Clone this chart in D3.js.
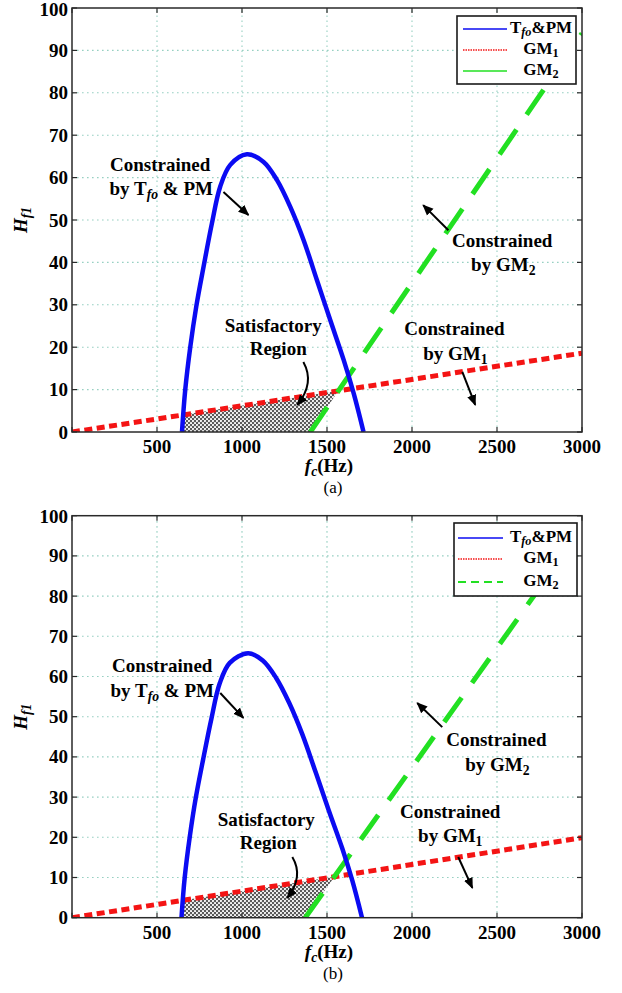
<!DOCTYPE html>
<html>
<head>
<meta charset="utf-8">
<script src="https://cdn.jsdelivr.net/npm/d3@7"></script>
<style>
  body { margin: 0; background: #fff; }
</style>
</head>
<body>
<svg id="fig" width="622" height="993" font-family="Liberation Serif, Times New Roman, Times, serif"></svg>
<script>
// ---- axes ----
const fcTicks = [0, 500, 1000, 1500, 2000, 2500, 3000];
const fcTickLabels = ["", "500", "1000", "1500", "2000", "2500", "3000"];
const hTicks = [0, 10, 20, 30, 40, 50, 60, 70, 80, 90, 100];
const hTickLabels = ["0", "10", "20", "30", "40", "50", "60", "70", "80", "90", "100"];
const legendNames = ["Tfo&PM", "GM1", "GM2"];

// ---- panel (a) ----
const tfoA_fc = [647, 666, 696, 731, 774, 823, 872, 931, 1029, 1127, 1206, 1284, 1362, 1441, 1519, 1598, 1657, 1715];
const tfoA_h  = [0, 9.9, 20.1, 29.6, 39.0, 49.2, 57.9, 63.0, 65.5, 63.7, 59.4, 53.1, 45.3, 35.8, 26.4, 17.0, 9.1, 0];
const gm1A_fc = [0, 650, 1500, 3000];
const gm1A_h  = [0, 4.0, 9.3, 18.6];
const gm2A_fc = [1402, 3000];
const gm2A_h  = [0, 94];
const regionA_fc = [647, 652, 1567, 1402];
const regionA_h  = [0, 4.05, 9.7, 0];

// ---- panel (b) ----
const tfoB_fc = [644, 663, 693, 728, 771, 820, 869, 928, 1036, 1122, 1200, 1278, 1355, 1434, 1511, 1590, 1649, 1706];
const tfoB_h  = [0, 10.0, 20.2, 29.8, 39.3, 49.5, 58.3, 63.4, 65.8, 64.0, 59.7, 53.4, 45.6, 36.1, 26.6, 17.2, 9.2, 0];
const gm1B_fc = [0, 650, 1500, 3000];
const gm1B_h  = [0, 4.3, 9.9, 19.9];
const gm2B_fc = [1372, 3000];
const gm2B_h  = [0, 96.9];
const regionB_fc = [644, 646, 1544, 1372];
const regionB_h  = [0, 4.3, 10.2, 0];

const BLUE = "#0b0bf2", RED = "#f41414", GREEN = "#22e022", GRID = "#97d0c2", AXIS = "#2a2a2a";
const FS = 19;
const SERIF = "Liberation Serif, Times New Roman, Times, serif";

const svg = d3.select("#fig");
const defs = svg.append("defs");

// cross-hatch fill for the satisfactory region
const pat = defs.append("pattern").attr("id", "hatch")
  .attr("patternUnits", "userSpaceOnUse").attr("width", 4).attr("height", 4);
pat.append("rect").attr("width", 4).attr("height", 4).attr("fill", "#5a5a5a");
pat.append("circle").attr("cx", 1).attr("cy", 1).attr("r", 1.05).attr("fill", "#fff");
pat.append("circle").attr("cx", 3).attr("cy", 3).attr("r", 1.05).attr("fill", "#fff");

defs.append("marker").attr("id", "head")
  .attr("viewBox", "0 0 10 10").attr("refX", 9).attr("refY", 5)
  .attr("markerWidth", 5.5).attr("markerHeight", 5.5)
  .attr("markerUnits", "strokeWidth").attr("orient", "auto")
  .append("path").attr("d", "M0,0.8 L10,5 L0,9.2 Z").attr("fill", "#000");

const zip = (a, b) => a.map((v, i) => [v, b[i]]);

function subText(sel, parts, fs = FS, shift = 4) {
  parts.forEach(p => {
    const t = sel.append("tspan").text(p.t);
    if (p.italic) t.attr("font-style", "italic");
    if (p.sub) t.attr("font-size", fs * 0.72).attr("dy", shift);
    if (p.up) t.attr("dy", -shift);
  });
}

function txt(parent) {
  return parent.append("text").attr("font-family", SERIF);
}

function drawPanel(cfg) {
  const x = d3.scaleLinear().domain([0, 3000]).range([72, 582]);
  const y = d3.scaleLinear().domain([0, 100]).range([cfg.y0, cfg.y1]);
  const g = svg.append("g");

  const clipId = "clip" + cfg.id;
  defs.append("clipPath").attr("id", clipId).append("rect")
    .attr("x", x(0)).attr("y", y(100)).attr("width", x(3000) - x(0)).attr("height", y(0) - y(100));

  // dotted grid
  g.append("g").selectAll("line").data(fcTicks.slice(1, -1)).join("line")
    .attr("x1", d => x(d)).attr("x2", d => x(d)).attr("y1", y(0)).attr("y2", y(100))
    .attr("stroke", GRID).attr("stroke-width", 1.1).attr("stroke-dasharray", "1.6,3.4");
  g.append("g").selectAll("line").data(hTicks.slice(1, -1)).join("line")
    .attr("y1", d => y(d)).attr("y2", d => y(d)).attr("x1", x(0)).attr("x2", x(3000))
    .attr("stroke", GRID).attr("stroke-width", 1.1).attr("stroke-dasharray", "1.6,3.4");

  const plot = g.append("g").attr("clip-path", `url(#${clipId})`);
  const line = d3.line().x(d => x(d[0])).y(d => y(d[1]));

  // satisfactory region
  plot.append("path").datum(zip(cfg.region_fc, cfg.region_h))
    .attr("d", d => line(d) + "Z").attr("fill", "url(#hatch)");

  plot.append("path").datum(zip(cfg.gm1_fc, cfg.gm1_h))
    .attr("d", line).attr("fill", "none").attr("stroke", RED)
    .attr("stroke-width", 5).attr("stroke-dasharray", "8,4.5");
  plot.append("path").datum(zip(cfg.gm2_fc, cfg.gm2_h))
    .attr("d", line).attr("fill", "none").attr("stroke", GREEN)
    .attr("stroke-width", 5).attr("stroke-dasharray", "30,18");
  plot.append("path").datum(zip(cfg.tfo_fc, cfg.tfo_h))
    .attr("d", d3.line().x(d => x(d[0])).y(d => y(d[1])).curve(d3.curveCatmullRom))
    .attr("fill", "none").attr("stroke", BLUE).attr("stroke-width", 4.5);

  // axis box and inward ticks on all sides
  g.append("rect").attr("x", x(0)).attr("y", y(100))
    .attr("width", x(3000) - x(0)).attr("height", y(0) - y(100))
    .attr("fill", "none").attr("stroke", AXIS).attr("stroke-width", 1.5);
  const tk = g.append("g").attr("stroke", AXIS).attr("stroke-width", 1.2);
  fcTicks.forEach(v => {
    tk.append("line").attr("x1", x(v)).attr("x2", x(v)).attr("y1", y(0)).attr("y2", y(0) - 5);
    tk.append("line").attr("x1", x(v)).attr("x2", x(v)).attr("y1", y(100)).attr("y2", y(100) + 5);
  });
  hTicks.forEach(v => {
    tk.append("line").attr("y1", y(v)).attr("y2", y(v)).attr("x1", x(0)).attr("x2", x(0) + 5);
    tk.append("line").attr("y1", y(v)).attr("y2", y(v)).attr("x1", x(3000)).attr("x2", x(3000) - 5);
  });

  // tick labels
  g.append("g").selectAll("text").data(fcTicks).join("text")
    .attr("font-family", SERIF)
    .attr("x", d => x(d)).attr("y", y(0) + 21).attr("text-anchor", "middle")
    .attr("font-size", FS).attr("font-weight", "bold").text((d, i) => fcTickLabels[i]);
  g.append("g").selectAll("text").data(hTicks).join("text")
    .attr("font-family", SERIF)
    .attr("x", x(0) - 4).attr("y", d => y(d) + 6.5 + (d === 100 ? 1 : 0)).attr("text-anchor", "end")
    .attr("font-size", FS).attr("font-weight", "bold").text((d, i) => hTickLabels[i]);

  // axis titles
  const xl = txt(g).attr("x", 329).attr("y", y(0) + 40).attr("text-anchor", "middle")
    .attr("font-size", FS).attr("font-weight", "bold");
  subText(xl, [{ t: "f", italic: true }, { t: "c", italic: true, sub: true }, { t: "(Hz)", up: true }]);
  const yl = txt(g).attr("transform", `translate(27,${y(50)}) rotate(-90)`)
    .attr("text-anchor", "middle").attr("font-size", FS).attr("font-weight", "bold");
  subText(yl, [{ t: "H", italic: true }, { t: "f1", italic: true, sub: true }]);
  txt(g).attr("x", 333).attr("y", y(0) + 61).attr("text-anchor", "middle")
    .attr("font-size", 17).text(cfg.caption);

  // annotations
  const ann = cfg.ann;
  const label = (pos, parts) => {
    const t = txt(g).attr("x", x(pos[0])).attr("y", y(pos[1]))
      .attr("text-anchor", "middle").attr("font-size", FS).attr("font-weight", "bold");
    subText(t, parts);
  };
  label(ann.tfo1, [{ t: "Constrained" }]);
  label(ann.tfo2, [{ t: "by T" }, { t: "fo", italic: true, sub: true }, { t: " & PM", up: true }]);
  label(ann.gm2a, [{ t: "Constrained" }]);
  label(ann.gm2b, [{ t: "by GM" }, { t: "2", sub: true }]);
  label(ann.gm1a, [{ t: "Constrained" }]);
  label(ann.gm1b, [{ t: "by GM" }, { t: "1", sub: true }]);
  label(ann.sat1, [{ t: "Satisfactory" }]);
  label(ann.sat2, [{ t: "Region" }]);

  const arrow = (a, b) => g.append("line")
    .attr("x1", x(a[0])).attr("y1", y(a[1])).attr("x2", x(b[0])).attr("y2", y(b[1]))
    .attr("stroke", "#000").attr("stroke-width", 2).attr("marker-end", "url(#head)");
  arrow(ann.arTfo[0], ann.arTfo[1]);
  arrow(ann.arGm2[0], ann.arGm2[1]);
  arrow(ann.arGm1[0], ann.arGm1[1]);
  const c = ann.arSat;
  g.append("path")
    .attr("d", `M${x(c[0][0])},${y(c[0][1])} Q${x(c[1][0])},${y(c[1][1])} ${x(c[2][0])},${y(c[2][1])}`)
    .attr("fill", "none").attr("stroke", "#000").attr("stroke-width", 2).attr("marker-end", "url(#head)");

  // legend
  const L = cfg.legend;
  const LFS = 17;
  const lg = g.append("g");
  lg.append("rect").attr("x", L.x).attr("y", L.y).attr("width", L.w).attr("height", L.h)
    .attr("fill", "#fff").attr("stroke", "#1a1a1a").attr("stroke-width", 1.6);
  const styles = [
    { c: BLUE, w: 1.3, d: null },
    { c: RED, w: 1.3, d: "1.5,1" },
    cfg.legendGreen
  ];
  legendNames.forEach((n, i) => {
    const yy = L.y + L.rows[i];
    const s = styles[i];
    const ln = lg.append("line").attr("x1", L.lx0).attr("x2", L.lx1).attr("y1", yy).attr("y2", yy)
      .attr("stroke", s.c).attr("stroke-width", s.w);
    if (s.d) ln.attr("stroke-dasharray", s.d);
    const t = txt(lg).attr("x", 541).attr("y", yy + 4).attr("text-anchor", "middle")
      .attr("font-size", LFS).attr("font-weight", "bold");
    if (i === 0) subText(t, [{ t: "T" }, { t: "fo", italic: true, sub: true }, { t: "&PM", up: true }], LFS, 3);
    else subText(t, [{ t: "GM" }, { t: String(i), sub: true }], LFS, 3);
  });
}

drawPanel({
  id: "a", y0: 432, y1: 8, caption: "(a)",
  tfo_fc: tfoA_fc, tfo_h: tfoA_h, gm1_fc: gm1A_fc, gm1_h: gm1A_h,
  gm2_fc: gm2A_fc, gm2_h: gm2A_h, region_fc: regionA_fc, region_h: regionA_h,
  ann: {
    tfo1: [519, 61.6], tfo2: [525, 55.9],
    gm2a: [2531, 43.6], gm2b: [2537, 38.0],
    gm1a: [2249, 22.9], gm1b: [2255, 17.0],
    sat1: [1184, 23.6], sat2: [1213, 18.2],
    arTfo: [[891, 56.6], [1038, 51.2]],
    arGm2: [[2214, 47.6], [2066, 53.5]],
    arGm1: [[2296, 14.2], [2372, 6.4]],
    arSat: [[1361, 16.5], [1430, 11.5], [1325, 6.4]]
  },
  legend: { x: 457, y: 16, w: 119, h: 68, rows: [13, 34, 55], lx0: 463, lx1: 507 },
  legendGreen: { c: GREEN, w: 1.3, d: null }
});

drawPanel({
  id: "b", y0: 917.7, y1: 515.7, caption: "(b)",
  tfo_fc: tfoB_fc, tfo_h: tfoB_h, gm1_fc: gm1B_fc, gm1_h: gm1B_h,
  gm2_fc: gm2B_fc, gm2_h: gm2B_h, region_fc: regionB_fc, region_h: regionB_h,
  ann: {
    tfo1: [531, 61.1], tfo2: [531, 54.9],
    gm2a: [2496, 42.7], gm2b: [2502, 36.5],
    gm1a: [2225, 24.8], gm1b: [2225, 18.8],
    sat1: [1143, 22.8], sat2: [1155, 17.1],
    arTfo: [[872, 55.9], [1008, 49.7]],
    arGm2: [[2178, 47.4], [2031, 53.4]],
    arGm1: [[2272, 15.1], [2355, 7.4]],
    arSat: [[1296, 15.1], [1365, 10.2], [1266, 4.9]]
  },
  legend: { x: 454, y: 523, w: 123, h: 73, rows: [15, 36, 59], lx0: 458, lx1: 503 },
  legendGreen: { c: GREEN, w: 2, d: "8,5" }
});
</script>
</body>
</html>
